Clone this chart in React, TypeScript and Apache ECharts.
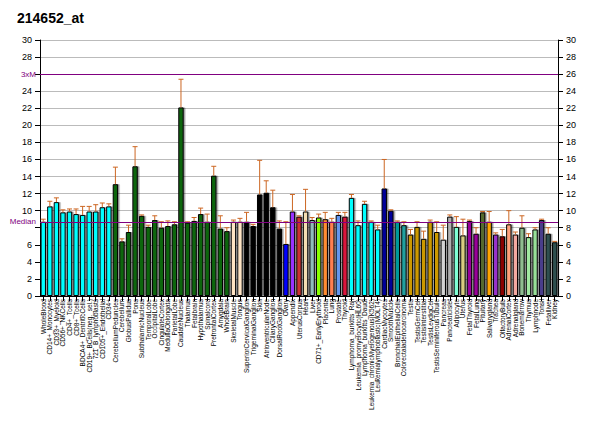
import React, { useEffect, useRef } from "react";
import * as echarts from "echarts";

const categories = ["WholeBlood","CD14+_Monocytes","CD33+_Myeloid","CD56+_NKCells","CD4+_Tcells","CD8+_Tcells","BDCA4+_DentriticCells","CD19+_BCells(neg._sel.)","721_B_lymphoblasts","CD105+_Endothelial","CD34+","CerebellumPeduncles","Cerebellum","GlobusPallidus","Pons","SubthalamicNucleus","TemporalLobe","OccipitalLobe","CingulateCortex","MedullaOblongata","ParietalLobe","CaudateNucleus","Thalamus","Fetalbrain","Hypothalamus","Spinalcord","PrefrontalCortex","Amygdala","WholeBrain","SkeletalMuscle","Tongue","SuperiorCervicalGanglion","TrigeminalGanglion","Skin","AtrioventricularNode","CiliaryGanglion","DorsalRootGanglion","Ovary","Appendix","UterusCorpus","Heart","Liver","CD71+_EarlyErythroid","Placenta","Lung","Prostate","Thyroid","Lymphoma_burkitts_Raji","Leukemia_promyelocytic(HL60)","Lymphoma_burkitts_Daudi","Leukemia_chronicMyelogenous(K562)","Leukemialymphoblastic(MOLT4)","CardiacMyocytes","SmoothMuscle","BronchialEpithelialCells","Colorectaladenocarcinoma","Testis","TestisGermCell","TestisInterstitial","TestisLeydigCell","TestisSeminiferousTubule","Pancreas","PancreaticIslet","Adipocyte","Uterus","FetalThyroid","FetalLung","Pituitary","Salivarygland","Trachea","OlfactoryBulb","AdrenalCortex","Adrenalgland","Bonemarrow","Thymus","Lymphnode","Tonsil","Fetalliver","Kidney"];

const values = [8.7,10.5,11.0,9.8,9.9,9.6,9.5,9.9,9.9,10.4,10.5,13.1,6.4,7.5,15.2,9.4,8.1,8.9,8.0,8.2,8.4,22.1,8.6,8.8,9.6,8.7,14.1,7.9,7.6,8.7,8.7,8.7,8.2,11.9,12.1,10.4,7.9,6.1,9.9,9.3,9.9,8.9,9.2,9.0,8.7,9.5,9.3,11.5,8.3,10.8,8.7,7.8,12.6,10.0,8.7,8.3,7.2,8.1,6.7,8.7,7.5,6.6,9.3,8.1,7.1,8.8,7.3,9.8,8.7,7.2,7.0,8.4,7.2,8.0,6.9,7.8,8.9,7.3,6.3];

const errTops = [9.0,11.1,11.5,10.1,10.2,10.2,10.5,10.5,10.7,10.9,10.8,15.1,6.7,8.3,17.5,9.5,8.3,9.4,8.7,8.8,8.7,25.4,8.7,9.2,10.3,9.6,15.2,9.4,8.0,8.9,9.1,9.8,8.4,15.9,13.5,12.4,8.8,8.7,11.9,9.4,12.5,9.2,9.6,9.8,9.1,9.8,9.8,11.9,8.8,11.1,8.8,8.3,16.0,10.1,8.8,8.7,7.8,8.7,7.6,8.9,8.7,8.3,9.5,9.3,9.0,8.9,8.0,9.9,9.9,7.4,7.8,10.0,7.5,9.4,7.3,8.0,9.0,8.0,6.4];

const colors = [
  ...Array(11).fill("#00FFFF"),
  ...Array(18).fill("#116611"),
  "#FFE4C4","#FFE4C4",
  "#000000","#000000","#000000","#000000","#000000","#000000",
  "#0000FF","#9933FF","#CC3333","#F5DEB3","#8FBCBC","#88FF00","#FF8C33","#FF7F50","#6495ED","#DC143C",
  "#00FFFF","#00FFFF","#00FFFF","#00FFFF","#00FFFF",
  "#000099","#000099","#009999","#20A0A0",
  "#CC9900","#CC9900","#CC9900","#CC9900","#CC9900",
  "#D3D3D3","#B0B0B0","#7FFFD4","#D8CC80","#990099","#990099","#556B2F","#FFA500","#9932CC","#8B0000","#FFA07A","#F4A8A0","#8FBC8F","#A0E8A0","#98E098","#483D8B","#2F4F4F","#2F4F4F"
];

const medianValue = 8.7;
const threeXM = 26;
const hiddenLeftTicks = [8, 26];

export default function App() {
  const ref = useRef<HTMLDivElement>(null);
  useEffect(() => {
    const chart = echarts.init(ref.current!, undefined, { renderer: "svg" });
    chart.setOption({
      animation: false,
      title: { text: "214652_at", left: 12, top: 6, textStyle: { fontSize: 14, fontWeight: "bold", fontFamily: "Liberation Sans, Arial", color: "#000" } },
      grid: { left: 40, right: 42, top: 40, bottom: 138 },
      xAxis: {
        type: "category", data: categories,
        axisTick: { show: true, interval: 0, alignWithLabel: true },
        axisLine: { lineStyle: { color: "#000" } },
        axisLabel: { interval: 0, rotate: 90, fontSize: 6.5, color: "#000", fontFamily: "Liberation Sans, Arial", margin: 3 },
      },
      yAxis: [
        { type: "value", min: 0, max: 30, interval: 2, axisLine: { show: true, lineStyle: { color: "#000" } }, axisTick: { show: true }, axisLabel: { fontSize: 9, color: "#000", formatter: (v: number) => (hiddenLeftTicks.includes(v) ? "" : String(v)) }, splitLine: { lineStyle: { color: "#bbb" } } },
        { type: "value", min: 0, max: 30, interval: 2, position: "right", axisLine: { show: true, lineStyle: { color: "#000" } }, axisTick: { show: true }, axisLabel: { fontSize: 9, color: "#000" }, splitLine: { show: false } },
      ],
      series: [
        {
          type: "bar", barCategoryGap: "18%",
          data: values.map((v, i) => ({ value: v, itemStyle: { color: colors[i], borderColor: "#000", borderWidth: 1, shadowColor: "rgba(0,0,0,0.4)", shadowOffsetX: 1.5 } })),
          markLine: {
            symbol: "none", silent: true,
            lineStyle: { color: "#800080", type: "solid", width: 1 },
            label: { position: "start", color: "#800080", fontSize: 8, distance: 4 },
            data: [
              { yAxis: medianValue, label: { formatter: "Median" } },
              { yAxis: threeXM, label: { formatter: "3xM" } },
            ],
          },
        },
        {
          type: "custom",
          data: values.map((v, i) => [i, v, errTops[i]]),
          renderItem: (params: any, api: any) => {
            const p0 = api.coord([api.value(0), api.value(1)]);
            const p1 = api.coord([api.value(0), api.value(2)]);
            const st = { stroke: "#CC6622", lineWidth: 1 };
            return {
              type: "group",
              children: [
                { type: "line", shape: { x1: p0[0], y1: p0[1], x2: p1[0], y2: p1[1] }, style: st },
                { type: "line", shape: { x1: p1[0] - 2.5, y1: p1[1], x2: p1[0] + 2.5, y2: p1[1] }, style: st },
              ],
            };
          },
          z: 3,
        },
      ],
    });
    return () => chart.dispose();
  }, []);
  return <div ref={ref} style={{ width: 600, height: 434, position: "absolute", left: 0, top: 0, background: "#fff" }} />;
}
